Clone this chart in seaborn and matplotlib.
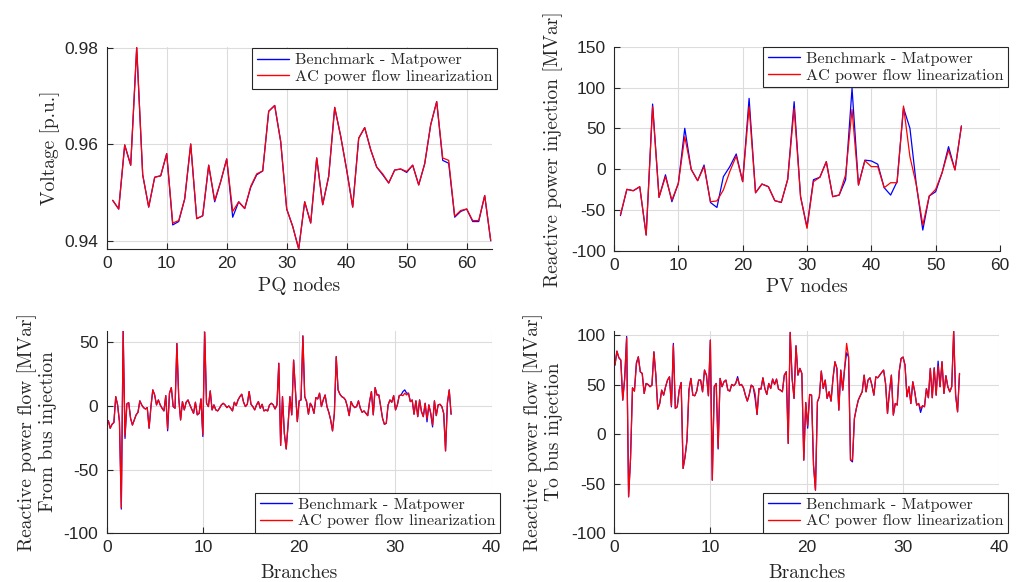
import numpy as np
import pandas as pd
import matplotlib
matplotlib.use("Agg")
import matplotlib.pyplot as plt
import seaborn as sns

# ---------------- data ----------------
series_names = ["Benchmark - Matpower", "AC power flow linearization"]

pq_nodes = list(range(1, 65))
pq_linear = [0.9484, 0.9466, 0.9599, 0.9557, 0.9803, 0.9537, 0.9470, 0.9532, 0.9535, 0.9581,
             0.9437, 0.9442, 0.9487, 0.9601, 0.9446, 0.9452, 0.9557, 0.9484, 0.9523, 0.9570,
             0.9461, 0.9481, 0.9467, 0.9513, 0.9539, 0.9545, 0.9669, 0.9681, 0.9606, 0.9466,
             0.9430, 0.9383, 0.9481, 0.9437, 0.9572, 0.9475, 0.9534, 0.9677, 0.9617, 0.9547,
             0.9470, 0.9613, 0.9635, 0.9589, 0.9553, 0.9539, 0.9520, 0.9547, 0.9549, 0.9544,
             0.9557, 0.9516, 0.9560, 0.9641, 0.9689, 0.9572, 0.9567, 0.9451, 0.9463, 0.9466,
             0.9442, 0.9442, 0.9494, 0.9401]
pq_benchmark = [0.9484, 0.9466, 0.9599, 0.9557, 0.9800, 0.9537, 0.9470, 0.9532, 0.9535, 0.9581,
                0.9433, 0.9440, 0.9487, 0.9601, 0.9446, 0.9452, 0.9557, 0.9481, 0.9523, 0.9570,
                0.9449, 0.9481, 0.9467, 0.9511, 0.9537, 0.9545, 0.9669, 0.9681, 0.9606, 0.9466,
                0.9430, 0.9383, 0.9481, 0.9437, 0.9572, 0.9475, 0.9534, 0.9677, 0.9617, 0.9547,
                0.9470, 0.9613, 0.9635, 0.9589, 0.9553, 0.9537, 0.9520, 0.9547, 0.9549, 0.9542,
                0.9557, 0.9516, 0.9560, 0.9641, 0.9689, 0.9567, 0.9561, 0.9449, 0.9461, 0.9466,
                0.9440, 0.9440, 0.9494, 0.9400]

pv_nodes = list(range(1, 55))
pv_linear = [-56, -24.8, -26.5, -21.6, -80.8, 76.5, -34.6, -9.3, -38, -17.5,
             39.7, -0.3, -14.2, 3, -40, -39, -25.6, -3, 16, -15.4,
             76.5, -29, -18.3, -21.6, -38.7, -40.8, -12.6, 74.4, -33.8, -72.6,
             -15.4, -10, 9.1, -33.8, -31.8, -7, 73, -19.5, 10.3, 3,
             3, -22.8, -16.7, -16.7, 77.3, 15.2, -19.5, -68.5, -33, -24.8,
             -4.4, 23.4, -1, 52.8]
pv_benchmark = [-57, -24.8, -26.5, -21.6, -80.8, 79.7, -34.6, -7, -40, -17.5,
                50, -0.3, -14.2, 5, -41, -47, -9.3, 3, 18.5, -15.4,
                86.7, -29, -18.3, -21.6, -38.7, -40.8, -12.6, 82.6, -33.8, -71,
                -13, -10, 9.1, -33.8, -31.8, -13, 99, -19.5, 11, 10,
                6, -22.8, -31.8, -15.4, 75, 50, -19.5, -74.7, -33, -27.7,
                -4.4, 27.5, -1, 52.8]

# branch flows (x axis runs over the branch range shown in the reference)
branch_axis_span = (0.17, 35.8)
from_linear = [-11.5, -17.5, -14.4, -13, 7.3, 0.8, -12.3, -80, 59, -24,
               1.6, 2.6, -9.7, -15, -11, -7, -5, 4, 0.8, -1.3,
               -2.4, -1.3, -17.5, -0.5, 12.6, 8.6, 0.8, 4.7, 0.8, -1.8,
               -3.9, 8.1, -18, 10, 14.4, -0.5, -1.8, 49, 6, -11,
               3.4, -3.1, 2.9, 4.7, 0.8, -2.4, -5.8, 2.9, -7, -5.8,
               5.5, -22.8, 58, 2.1, -0.5, 11.8, -3.1, 0.8, -3.1, -3.9,
               -1.8, 0.8,
               2.1, 0.8, -1.3, 0, -1.8, -3.9, 2.9, 0.3, 4.7,
               7.3, 9.2, 2.9, -0.5, 1.3, 11.3, 1.3, -0.5, -3.1, 0.8,
               3.4, -1.8, 1.3, -3.9, -3.1, -3.9, 0.8, 2.1, 0.8, -2.4,
               0.8, 33.5, -31, 7.3, -21.5, -33.8, -15, 7.3, -7, 36,
               11.3, -12.3, 4, 4.7, 55, 7.3, 3.4, -6.5, 2.1, -0.5,
               -5.8, 6.5, 5.5, 10, -0.5, 4.7, 8.6, -0.5, -5, -11,
               -19.6,
               -5.8, 38.7, 12.6, 9.2, 7.3, 6.5, 4.7, -0.5, -7.6, 3.4,
               0.3, -1.3, -0.5, 4, -1.8, -5, -3.9, -5.8, -7.6, 3.4,
               11.3, -7, 14.4, 8.6, 8.6, -0.5, -9.7, -14.4, -13.6, 0.8,
               4.7, 2.9, 8.1, -3.1, 0.8, 8.1, 8.6, 8.1, 10, 8.6,
               10, 3.4, 4.7, -6.5, 4, -8.4, 4.7, -4.4, -8.4, 2.1,
               -10.2, 0.8, -5.8, -15, 4, -7.6, 0.8, 1.3, -0.5, -5.8,
               -35.3, 2.1, 12.6, -6.5]
# benchmark values where they differ from the linearization: {branch position: value}
from_benchmark_diff = {7: -81, 9: -25.5, 32: -19.5, 51: -24,
                       159: 11.3, 160: 12.6, 161: 10, 172: -12.5, 175: -16.5}

to_axis_span = (0.1, 35.87)
to_linear = [69.6, 83.7, 77, 74.7, 34.3, 56.2, 97.2, -63.2, -24.5, 46.7,
             43.4, 70.3, 78, 62.9, 61.2, 41, 51.1, 50.1, 47.8, 49.4,
             83, 59.5, 25.2, 30.9, 44.4, 39.3, 47.8, 54.5, 57.8, 28.6,
             89.8, 25.9, 27.6, 44.4, 52.1, -34.6, -22.9, -6.1, 44.4, 56.2,
             39.3, 38.7, 43.4, 54.5, 54.5, 42.7, 64.6, 59.5, 38.7, 94.8,
             -46.4, 47.8, 51.1, -13.8, 56.2, 47.8, 52.8, 54.5, 44.4,
             43.4, 50.1, 48.8, 51.1, 56.2, 49.4, 50.1, 46.7, 39.3, 33.3,
             40, 49.4, 47.8, 41, 19.8, 46, 45.4, 56.8, 46, 40,
             51.1, 46, 55.5, 50.1, 55.5, 45.4, 44.4, 42.7, 59.5, 62.9,
             -9.4, 102.6, 56.2, 36, 89.1, 59.5, 66.3, 61.2, -26.2, 31.9,
             8.4, 40, 39.3, -31.3, -56.5, 32.6, 37.7, 63.6, 46, 54.5,
             36, 42.7, 33.3, 56.2, 73, 66.3, 24.2, 64.6, 44.4, 66.9,
             91.5, 78,
             -26.2, -26.2, 15.8, 25.9, 34.3, 38.7, 42.7, 59.5, 42.7, 54.5,
             56.8, 49.4, 39.3, 57.8, 56.8, 59.5, 62.2, 64.6, 51.1, 20.8,
             42.7, 59.5, 19.2, 30.9, 29.3, 62.9, 76.3, 77.7, 69.6, 37.7,
             47.8, 30.9, 52.8, 42.7, 29.3, 30.9, 25.9, 28.6, 27.6, 46,
             36.7, 66.3, 36.7, 66.3, 39.3, 68.9, 47.8, 73, 41, 58.9,
             47.8, 42.7, 47.8, 103.9, 39.3, 22.5, 61.2]
to_benchmark_diff = {6: 98.5, 11: 72, 29: 27.5, 30: 91.5, 53: -15, 63: 58, 72: 36,
                     99: 6, 119: 82, 122: -28, 157: 21.9, 164: 67, 166: 73.6}

# ---------------- style ----------------
sns.set_theme(style="whitegrid")
plt.rcParams.update({
    "font.family": ["Liberation Sans", "DejaVu Sans"],
    "axes.unicode_minus": False,
    "axes.edgecolor": "#262626",
    "axes.linewidth": 0.8,
    "grid.color": "#dcdcdc",
    "grid.linewidth": 0.8,
    "xtick.color": "#262626",
    "ytick.color": "#262626",
})
SERIF = ["cmr10", "DejaVu Serif"]
BLUE, RED = "#0000ff", "#ff0000"
LABEL_FS = 14
TICK_FS = 12.5
LEG_FS = 11.6

W, H = 1019, 582
fig = plt.figure(figsize=(W / 100, H / 100), dpi=100)


def axes_px(left, top, right, bottom):
    return fig.add_axes([left / W, 1 - bottom / H, (right - left) / W, (bottom - top) / H])


def build_frame(x, bench, lin):
    n = len(x)
    return pd.DataFrame({
        "x": list(x) + list(x),
        "y": list(bench) + list(lin),
        "series": [series_names[0]] * n + [series_names[1]] * n,
    })


def panel(ax, df, xlim, ylim, xticks, yticks, yticklabels, xlabel, ylabel,
          leg_anchor, leg_loc, ylab_x, xlab_y):
    sns.lineplot(data=df, x="x", y="y", hue="series",
                 palette={series_names[0]: BLUE, series_names[1]: RED},
                 estimator=None, sort=False, linewidth=0.9, ax=ax)
    ax.set_xlim(*xlim)
    ax.set_ylim(*ylim)
    ax.set_xticks(xticks)
    ax.set_yticks(yticks)
    ax.set_yticklabels(yticklabels)
    ax.set_xticklabels([str(t) for t in xticks])
    for s in ("top", "right"):
        ax.spines[s].set_visible(False)
    ax.tick_params(direction="in", length=4, width=0.8, labelsize=TICK_FS,
                   left=True, bottom=True)
    ax.tick_params(axis="y", pad=6)
    ax.tick_params(axis="x", pad=5)
    ax.grid(True)
    ax.set_xlabel(xlabel, fontfamily=SERIF, fontsize=LABEL_FS)
    ax.set_ylabel(ylabel, fontfamily=SERIF, fontsize=LABEL_FS, linespacing=1.15)
    ax.yaxis.set_label_coords(ylab_x, 0.5)
    ax.xaxis.set_label_coords(0.5, xlab_y)
    handles, labels = ax.get_legend_handles_labels()
    leg = ax.legend(handles, labels, loc=leg_loc,
                    bbox_to_anchor=(leg_anchor[0] / W, 1 - leg_anchor[1] / H),
                    bbox_transform=fig.transFigure, borderaxespad=0,
                    prop={"family": SERIF, "size": LEG_FS},
                    frameon=True, fancybox=False, framealpha=1,
                    edgecolor="#262626", handlelength=2.0, handletextpad=0.35,
                    labelspacing=0.15, borderpad=0.3)
    leg.get_frame().set_linewidth(0.8)
    for line in leg.get_lines():
        line.set_linewidth(1.0)


# Panel 1: voltage at PQ nodes
ax1 = axes_px(106.7, 46.7, 492.2, 249)
panel(ax1, build_frame(pq_nodes, pq_benchmark, pq_linear),
      (0, 64.25), (min(pq_linear + pq_benchmark), 0.9803),
      list(range(0, 61, 10)), [0.94, 0.96, 0.98], ["0.94", "0.96", "0.98"],
      "PQ nodes", "Voltage [p.u.]", (497.3, 48.3), "upper right", -0.12, -0.14)

# Panel 2: reactive power injection at PV nodes
ax2 = axes_px(614, 46.7, 1000, 250.7)
panel(ax2, build_frame(pv_nodes, pv_benchmark, pv_linear),
      (0, 60), (-100, 150),
      list(range(0, 61, 10)), [-100, -50, 0, 50, 100, 150],
      ["-100", "-50", "0", "50", "100", "150"],
      "PV nodes", "Reactive power injection [MVar]", (1008.3, 46.7), "upper right",
      -0.132, -0.135)

# Panel 3: from bus branch flows
from_bench = list(from_linear)
for k, v in from_benchmark_diff.items():
    from_bench[k] = v
from_x = np.linspace(branch_axis_span[0], branch_axis_span[1], len(from_linear))
ax3 = axes_px(106.7, 330.8, 491.5, 533.3)
panel(ax3, build_frame(from_x, from_bench, from_linear),
      (0, 40), (-100, 59),
      list(range(0, 41, 10)), [-100, -50, 0, 50], ["-100", "-50", "0", "50"],
      "Branches", "Reactive power flow [MVar]\nFrom bus injection",
      (500, 533.3), "lower right", -0.129, -0.15)

# Panel 4: to bus branch flows
to_bench = list(to_linear)
for k, v in to_benchmark_diff.items():
    to_bench[k] = v
to_x = np.linspace(to_axis_span[0], to_axis_span[1], len(to_linear))
ax4 = axes_px(614, 331, 999.3, 533.3)
panel(ax4, build_frame(to_x, to_bench, to_linear),
      (0, 40), (-100, 104),
      list(range(0, 41, 10)), [-100, -50, 0, 50, 100],
      ["-100", "-50", "0", "50", "100"],
      "Branches", "Reactive power flow [MVar]\nTo bus injection",
      (1008.3, 533.3), "lower right", -0.132, -0.15)

fig.savefig("out.png", dpi=100)
